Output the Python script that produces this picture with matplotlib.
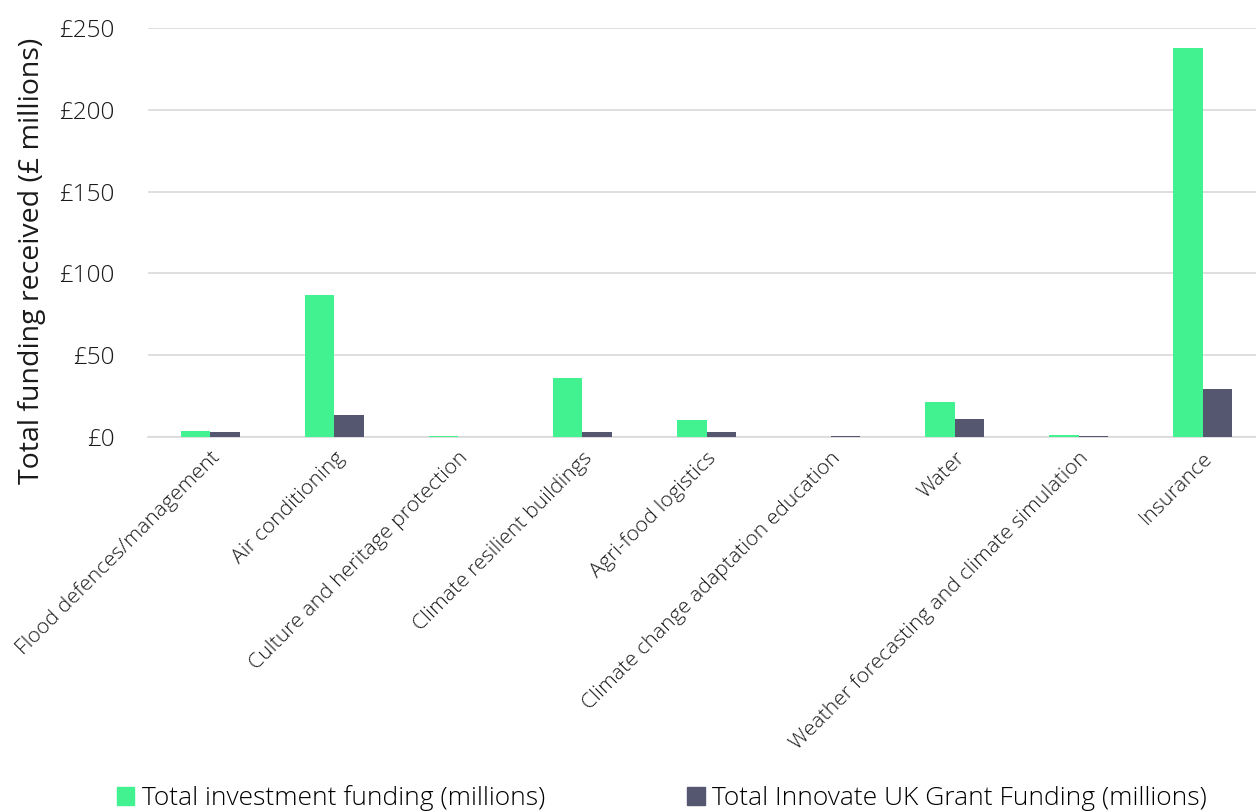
import numpy as np
import matplotlib.pyplot as plt
from matplotlib.patches import Patch

plt.rcParams['font.family'] = ['Open Sans', 'DejaVu Sans']
plt.rcParams['font.weight'] = 'light'

categories = [
    'Flood defences/management',
    'Air conditioning',
    'Culture and heritage protection',
    'Climate resilient buildings',
    'Agri-food logistics',
    'Climate change adaptation education',
    'Water',
    'Weather forecasting and climate simulation',
    'Insurance',
]
investment = [3.5, 87, 0.6, 36, 10.5, 0, 21.5, 1.3, 238]
innovate_uk = [3.2, 13.5, 0, 3.3, 3.3, 0.8, 11, 0.8, 29.5]
y_ticks = [0, 50, 100, 150, 200, 250]
y_tick_labels = ['£0', '£50', '£100', '£150', '£200', '£250']

green = '#42F18F'
slate = '#555770'
text_col = '#1a1a1a'

fig = plt.figure(figsize=(12.56, 8.11), dpi=100)
# axes runs a little past the right edge of the figure
ax = fig.add_axes([148 / 1256, 1 - 437 / 811, 1117 / 1256, 409 / 811])

x = np.arange(len(categories))
w = 0.238
ax.bar(x - w / 2, investment, w, color=green, zorder=3)
ax.bar(x + w / 2, innovate_uk, w, color=slate, zorder=3)

ax.set_xlim(-0.5, len(categories) - 0.5)
ax.set_ylim(0, 250)
ax.set_yticks(y_ticks)
ax.set_yticklabels(y_tick_labels, fontsize=17.5, color=text_col)
ax.yaxis.grid(True, color='#d9d9d9', linewidth=1.2, zorder=0)
ax.tick_params(axis='y', length=0, pad=24)
ax.tick_params(axis='x', length=0, pad=8)

ax.set_xticks(x)
ax.set_xticklabels(categories, rotation=45, ha='right', rotation_mode='anchor',
                   fontsize=15.3, color=text_col)

for side in ['top', 'right', 'left']:
    ax.spines[side].set_visible(False)
ax.spines['bottom'].set_color('#d9d9d9')
ax.spines['bottom'].set_linewidth(1.2)

ax.set_ylabel('Total funding received (£ millions)', fontsize=20.5, color=text_col)
ax.yaxis.set_label_coords(-0.091, 0.43)

handles = [Patch(color=green), Patch(color=slate)]
fig.legend(handles, ['Total investment funding (millions)',
                     'Total Innovate UK Grant Funding (millions)'],
           loc='center', bbox_to_anchor=(0.527, 0.016), ncol=2, frameon=False,
           fontsize=19, handlelength=0.65, handleheight=0.65, handletextpad=0.3,
           columnspacing=5.4)

fig.savefig('out.png', dpi=100)
